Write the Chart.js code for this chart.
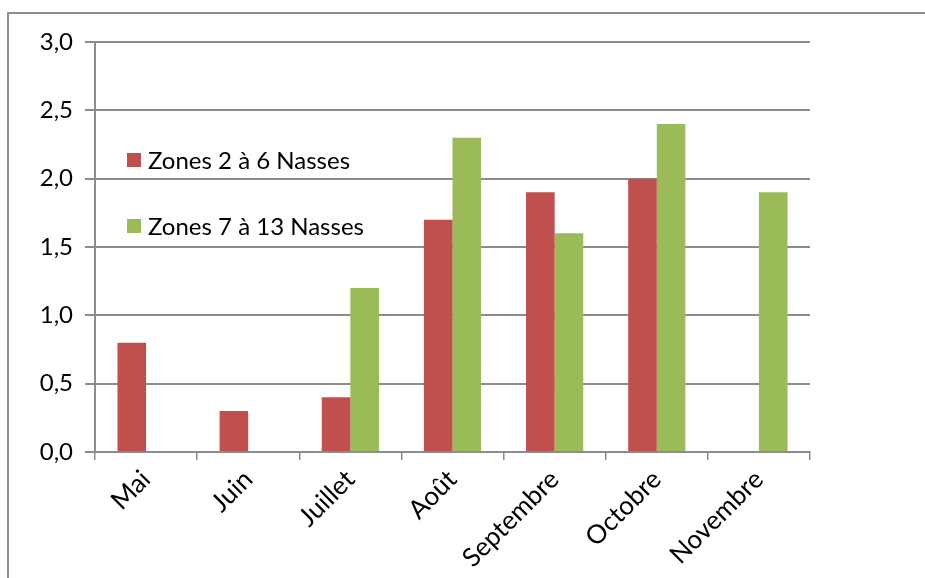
<!DOCTYPE html>
<html>
<head>
<meta charset="utf-8">
<script src="https://cdn.jsdelivr.net/npm/chart.js@4/dist/chart.umd.min.js"></script>
<style>
  body { margin:0; background:#fff; }
  #wrap { position:relative; width:925px; height:578px; }
  #frame { position:absolute; left:7px; top:12px; right:-4px; bottom:-4px;
           border-left:2px solid #8e8e8e; border-top:2px solid #8e8e8e; }
</style>
</head>
<body>
<div id="wrap">
  <canvas id="chart" width="925" height="578"></canvas>
  <div id="frame"></div>
</div>
<script>
const months = ["Mai","Juin","Juillet","Août","Septembre","Octobre","Novembre"];
const zones2a6 = [0.8, 0.3, 0.4, 1.7, 1.9, 2.0, null];
const zones7a13 = [null, null, 1.2, 2.3, 1.6, 2.4, 1.9];
const seriesNames = ["Zones 2 à 6 Nasses", "Zones 7 à 13 Nasses"];
const colors = ["#C0504D", "#9BBB59"];

const FONT = "Lato, 'Open Sans', sans-serif";
const grey = "#8c8c8c";

// legend drawn inside the plot area, like the original
const insideLegend = {
  id: "insideLegend",
  afterDraw(chart) {
    const ctx = chart.ctx;
    const rows = [160, 226];
    ctx.save();
    chart.data.datasets.forEach((ds, i) => {
      ctx.fillStyle = ds.backgroundColor;
      ctx.fillRect(127, rows[i] - 7, 14, 14);
      ctx.fillStyle = "#000";
      ctx.font = "24px " + FONT;
      ctx.textBaseline = "middle";
      ctx.textAlign = "left";
      ctx.fillText(ds.label, 148, rows[i] + 1);
    });
    ctx.restore();
  }
};

new Chart(document.getElementById("chart"), {
  type: "bar",
  data: {
    labels: months,
    datasets: [
      { label: seriesNames[0], data: zones2a6, backgroundColor: colors[0] },
      { label: seriesNames[1], data: zones7a13, backgroundColor: colors[1] }
    ]
  },
  options: {
    responsive: false,
    animation: false,
    layout: { padding: { top: 42, right: 115, bottom: 0, left: 0 } },
    datasets: { bar: { categoryPercentage: 0.56, barPercentage: 1.0 } },
    plugins: { legend: { display: false }, tooltip: { enabled: false } },
    scales: {
      x: {
        afterFit: s => { s.height = 126; },
        grid: { drawOnChartArea: false, drawTicks: true, tickLength: 8, color: grey, lineWidth: 1.5 },
        border: { color: grey, width: 2 },
        ticks: { minRotation: 45, maxRotation: 45, color: "#000", padding: 4,
                 font: { family: FONT, size: 26 } }
      },
      y: {
        min: 0, max: 3,
        afterFit: s => { s.width = 95; },
        ticks: { stepSize: 0.5, color: "#000", padding: 12,
                 font: { family: FONT, size: 24 },
                 callback: v => v.toFixed(1).replace(".", ",") },
        grid: { color: grey, lineWidth: 2, tickLength: 10 },
        border: { color: grey, width: 2 }
      }
    }
  },
  plugins: [insideLegend]
});
</script>
</body>
</html>
